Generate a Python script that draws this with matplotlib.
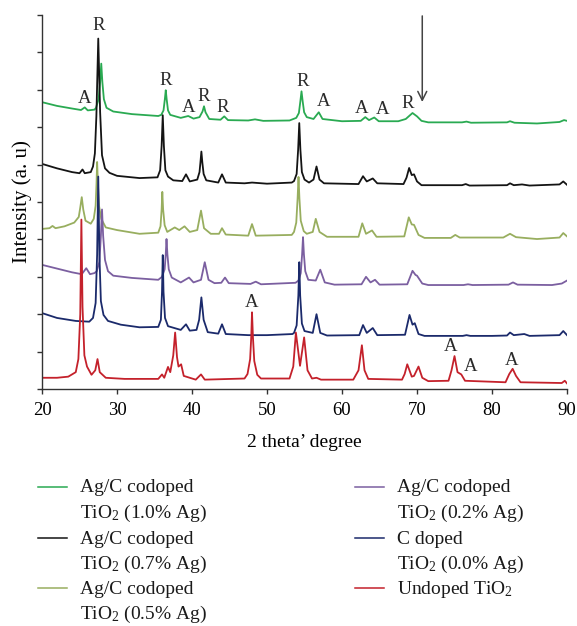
import matplotlib
matplotlib.use("Agg")
import matplotlib.pyplot as plt
from matplotlib.lines import Line2D

plt.rcParams["font.family"] = ["Liberation Serif", "DejaVu Serif"]
plt.rcParams["mathtext.fontset"] = "custom"
plt.rcParams["mathtext.rm"] = "Liberation Serif"
plt.rcParams["mathtext.it"] = "Liberation Serif:italic"

# XRD traces (2theta, stacked intensity in a.u.)
green_pts = [(20, 7.67), (22, 7.57), (24, 7.5), (25.2, 7.46), (25.7, 7.53), (26.1, 7.45), (27.0, 7.47),
             (27.2, 7.52), (27.55, 7.75), (27.75, 8.2), (27.9, 8.7), (28.05, 8.2), (28.25, 7.75), (28.6, 7.52),
             (29.5, 7.42), (32, 7.35), (35.5, 7.3), (35.9, 7.33), (36.2, 7.45), (36.38, 7.75), (36.5, 7.99),
             (36.62, 7.75), (36.8, 7.45), (37.1, 7.33), (38.5, 7.25), (39.5, 7.3), (40.2, 7.23), (41.0, 7.27),
             (41.4, 7.42), (41.6, 7.56), (41.8, 7.4), (42.3, 7.22), (43.8, 7.2), (44.3, 7.29), (44.8, 7.19),
             (47.5, 7.18), (48.4, 7.21), (49.5, 7.17), (53.0, 7.18), (53.9, 7.25), (54.25, 7.38), (54.45, 7.7),
             (54.6, 7.96), (54.75, 7.7), (54.95, 7.4), (55.3, 7.27), (56.2, 7.22), (56.9, 7.4), (57.4, 7.22),
             (60, 7.16), (62.5, 7.17), (63.1, 7.27), (63.6, 7.19), (64.3, 7.26), (64.9, 7.16), (67.5, 7.16),
             (68.5, 7.22), (69.4, 7.38), (70.0, 7.29), (70.6, 7.17), (71.5, 7.13), (76.0, 7.13), (76.6, 7.15),
             (77.2, 7.12), (82.0, 7.13), (82.4, 7.16), (83, 7.12), (86, 7.1), (89, 7.14), (89.6, 7.19), (90, 7.17)]
black_pts = [(20, 6.02), (22, 5.9), (24, 5.8), (25.0, 5.77), (25.4, 5.87), (25.7, 5.77), (26.5, 5.8),
             (26.8, 5.95), (27.05, 6.3), (27.25, 7.3), (27.5, 9.37), (27.75, 7.4), (28.0, 6.25), (28.4, 5.9),
             (29, 5.78), (30, 5.7), (33, 5.64), (35.4, 5.66), (35.75, 5.85), (35.95, 6.5), (36.1, 7.32),
             (36.25, 6.5), (36.45, 5.85), (36.8, 5.68), (37.5, 5.58), (38.7, 5.56), (39.2, 5.74), (39.7, 5.55),
             (40.7, 5.6), (41.0, 5.8), (41.12, 6.05), (41.25, 6.35), (41.38, 6.05), (41.55, 5.75), (41.9, 5.58),
             (43.5, 5.52), (44.0, 5.74), (44.5, 5.52), (47, 5.5), (48, 5.52), (50, 5.49), (53.3, 5.52),
             (53.6, 5.56), (53.95, 5.75), (54.15, 6.4), (54.3, 7.11), (54.45, 6.4), (54.65, 5.8), (55.0, 5.6),
             (55.6, 5.52), (56.2, 5.6), (56.6, 5.95), (57.0, 5.6), (57.6, 5.5), (62.2, 5.48), (62.8, 5.69),
             (63.3, 5.55), (64.1, 5.63), (64.7, 5.5), (68.2, 5.48), (68.6, 5.65), (68.95, 5.91), (69.3, 5.72),
             (69.6, 5.74), (70.0, 5.55), (70.6, 5.45), (76, 5.45), (76.5, 5.48), (77, 5.44), (82, 5.45),
             (82.4, 5.5), (82.9, 5.45), (84, 5.47), (85, 5.44), (89, 5.47), (89.5, 5.55), (90, 5.46)]
olive_pts = [(20, 4.28), (21.0, 4.3), (21.4, 4.36), (21.8, 4.3), (23, 4.35), (24.3, 4.45), (24.9, 4.6),
             (25.1, 4.85), (25.3, 5.13), (25.5, 4.8), (25.8, 4.5), (26.5, 4.42), (26.9, 4.55), (27.15, 4.9),
             (27.27, 5.5), (27.35, 6.07), (27.45, 5.5), (27.6, 4.9), (27.9, 4.55), (28.5, 4.32), (30, 4.25),
             (33, 4.15), (35.5, 4.18), (35.8, 4.35), (35.95, 4.8), (36.04, 5.27), (36.15, 4.8), (36.35, 4.38),
             (36.7, 4.2), (37.7, 4.32), (38.3, 4.25), (39.0, 4.35), (39.7, 4.2), (40.7, 4.25), (41.2, 4.77),
             (41.6, 4.3), (42.5, 4.15), (43.6, 4.15), (44.0, 4.3), (44.5, 4.13), (47.5, 4.1), (48.0, 4.41),
             (48.5, 4.1), (53.3, 4.12), (53.6, 4.2), (53.9, 4.45), (54.08, 5.1), (54.2, 5.67), (54.32, 5.1),
             (54.5, 4.5), (54.9, 4.22), (55.3, 4.15), (56.1, 4.2), (56.5, 4.55), (57.0, 4.2), (58, 4.07),
             (62.2, 4.07), (62.7, 4.43), (63.2, 4.15), (64.0, 4.24), (64.6, 4.07), (68.3, 4.08), (68.9, 4.59),
             (69.3, 4.4), (69.6, 4.39), (70.2, 4.12), (71, 4.04), (74.5, 4.04), (75.1, 4.12), (75.7, 4.05),
             (81.5, 4.05), (82.4, 4.15), (83.2, 4.06), (86, 4.01), (89, 4.05), (89.5, 4.17), (90, 4.08)]
purple_pts = [(20, 3.32), (22, 3.22), (24, 3.12), (25.3, 3.07), (25.9, 3.23), (26.4, 3.07), (27.0, 3.1),
              (27.3, 3.15), (27.65, 3.4), (27.85, 4.1), (28.0, 4.8), (28.15, 4.1), (28.4, 3.45), (28.8, 3.15),
              (29.5, 3.03), (32, 2.97), (35.5, 2.92), (36.0, 3.0), (36.35, 3.2), (36.5, 3.6), (36.6, 4.01),
              (36.72, 3.6), (36.9, 3.2), (37.3, 2.98), (38.5, 2.85), (39.6, 2.98), (40.2, 2.85), (41.2, 2.92),
              (41.7, 3.39), (42.2, 2.92), (43, 2.83), (43.9, 2.84), (44.4, 2.98), (44.9, 2.83), (47.8, 2.81),
              (48.5, 2.87), (49.2, 2.8), (53.8, 2.84), (54.2, 2.9), (54.5, 3.1), (54.68, 3.6), (54.8, 4.06),
              (54.92, 3.6), (55.1, 3.15), (55.5, 2.92), (56.5, 2.9), (57.1, 3.19), (57.7, 2.85), (59, 2.79),
              (62.6, 2.8), (63.2, 3.0), (63.8, 2.85), (64.4, 2.92), (65.0, 2.79), (68.7, 2.8), (69.4, 3.16),
              (69.8, 3.05), (70.0, 3.03), (70.7, 2.82), (71.5, 2.78), (76.2, 2.78), (76.8, 2.8), (77.4, 2.78),
              (82.2, 2.79), (82.8, 2.85), (83.4, 2.79), (88, 2.78), (89.3, 2.82), (90, 2.9)]
navy_pts = [(20, 2.03), (22, 1.9), (24.5, 1.82), (26.3, 1.8), (26.8, 1.9), (27.15, 2.3), (27.35, 3.6),
            (27.5, 5.68), (27.65, 3.6), (27.85, 2.35), (28.2, 1.98), (28.8, 1.82), (30.5, 1.72), (33, 1.65),
            (35.5, 1.66), (35.85, 1.85), (36.0, 2.6), (36.1, 3.58), (36.2, 2.6), (36.4, 1.9), (36.8, 1.68),
            (38.5, 1.58), (39.2, 1.73), (39.7, 1.56), (40.6, 1.58), (40.95, 1.85), (41.25, 2.45), (41.55, 1.85),
            (42.1, 1.52), (43.5, 1.48), (44.0, 1.73), (44.5, 1.47), (47.5, 1.44), (50, 1.44), (53.4, 1.47),
            (53.6, 1.5), (53.95, 1.7), (54.18, 2.5), (54.3, 3.39), (54.42, 2.5), (54.65, 1.75), (55.0, 1.55),
            (56.1, 1.5), (56.6, 2.0), (57.1, 1.5), (58, 1.43), (62.3, 1.44), (62.8, 1.71), (63.3, 1.5),
            (64.1, 1.63), (64.7, 1.44), (68.4, 1.45), (69.0, 1.98), (69.4, 1.72), (69.7, 1.76), (70.2, 1.47),
            (71, 1.42), (76.1, 1.42), (76.6, 1.44), (77.1, 1.42), (80, 1.42), (82.0, 1.43), (82.4, 1.51),
            (82.9, 1.44), (84.3, 1.47), (85, 1.42), (89, 1.44), (89.5, 1.55), (90, 1.44)]
red_pts = [(20, 0.3), (22, 0.3), (23.5, 0.33), (24.5, 0.45), (24.85, 0.8), (25.1, 2.0), (25.25, 4.53),
           (25.4, 2.2), (25.65, 0.9), (26.0, 0.6), (26.6, 0.38), (27.1, 0.5), (27.4, 0.8), (27.7, 0.45),
           (28.5, 0.3), (31, 0.27), (35.5, 0.27), (36.0, 0.39), (36.3, 0.3), (36.8, 0.59), (37.1, 0.45),
           (37.5, 0.9), (37.75, 1.51), (38.0, 0.85), (38.2, 0.6), (38.55, 0.66), (38.9, 0.35), (40.5, 0.25),
           (41.2, 0.39), (41.7, 0.25), (47.0, 0.28), (47.4, 0.4), (47.75, 0.8), (47.9, 1.4), (48.0, 2.05),
           (48.12, 1.4), (48.3, 0.75), (48.7, 0.38), (49.2, 0.28), (53.0, 0.28), (53.5, 0.6), (53.85, 1.51),
           (54.4, 0.62), (54.95, 1.38), (55.4, 0.5), (56.0, 0.28), (56.6, 0.3), (57.2, 0.25), (61.5, 0.25),
           (62.2, 0.5), (62.65, 1.17), (63.0, 0.5), (63.5, 0.27), (68.0, 0.25), (68.35, 0.4), (68.7, 0.66),
           (69.3, 0.33), (69.6, 0.35), (70.2, 0.6), (70.7, 0.3), (71.5, 0.21), (74.2, 0.22), (74.6, 0.5),
           (75.0, 0.88), (75.4, 0.45), (75.9, 0.39), (76.4, 0.22), (81.8, 0.18), (82.3, 0.4), (82.75, 0.54),
           (83.2, 0.35), (83.8, 0.18), (89.3, 0.16), (89.7, 0.22), (90, 0.15)]

series = [green_pts, black_pts, olive_pts, purple_pts, navy_pts, red_pts]
colors = ["#2aaa52", "#141414", "#98ae5f", "#7b5fa0", "#1b2a6b", "#c4212b"]
labels = ["Ag/C codoped\nTiO$_2$ (1.0% Ag)",
          "Ag/C codoped\nTiO$_2$ (0.7% Ag)",
          "Ag/C codoped\nTiO$_2$ (0.5% Ag)",
          "Ag/C codoped\nTiO$_2$ (0.2% Ag)",
          "C doped\nTiO$_2$ (0.0% Ag)",
          "Undoped TiO$_2$"]

# phase markers (A = anatase, R = rutile)
mark_text = ["A", "R", "R", "A", "R", "R", "R", "A", "A", "A", "R", "A", "A", "A", "A"]
mark_x = [25.7, 27.5, 36.5, 39.5, 41.6, 44.1, 54.8, 57.6, 62.6, 65.4, 68.7, 48.0, 74.5, 77.2, 82.6]
mark_y = [7.77, 9.73, 8.26, 7.54, 7.83, 7.54, 8.21, 7.68, 7.51, 7.47, 7.63, 2.31, 1.13, 0.59, 0.75]

fig = plt.figure(figsize=(5.77, 6.26), dpi=100)
ax = fig.add_axes([0.0728, 0.3786, 0.9099, 0.5974])

for pts, c in zip(series, colors):
    xs = [p[0] for p in pts]
    ys = [p[1] for p in pts]
    ax.plot(xs, ys, color=c, lw=1.3)

for t, x, y in zip(mark_text, mark_x, mark_y):
    ax.text(x, y, t, ha="center", va="center", fontsize=13.5, color="#2a2a2a")

ax.annotate("", xy=(70.7, 7.6), xytext=(70.7, 10.05), annotation_clip=False,
            arrowprops=dict(arrowstyle="->", color="#444444", lw=1.1, mutation_scale=16))

ax.set_xlim(20, 90)
ax.set_ylim(0, 10)
ax.set_xticks(range(20, 91, 10))
ax.set_yticks(range(0, 11))
ax.set_yticklabels([])
for s in ["top", "right"]:
    ax.spines[s].set_visible(False)
for s in ["left", "bottom"]:
    ax.spines[s].set_color("#333333")
    ax.spines[s].set_linewidth(1.0)
ax.tick_params(direction="out", length=3.5, width=1.0, color="#333333", labelsize=13.5, pad=6)
ax.set_xlabel("2 theta\u2019 degree", fontsize=14, labelpad=11)
ax.set_ylabel("Intensity (a. u)", fontsize=15, labelpad=-2.5)

# legend drawn by hand: the line sits next to the first line of each label
W, H = 577.0, 626.0
col_x = [38, 355]
row_y = [487, 538, 588]
for i, (lab, c) in enumerate(zip(labels, colors)):
    cx = col_x[i // 3]
    cy = row_y[i % 3]
    fig.add_artist(Line2D([cx / W, (cx + 29) / W], [1 - cy / H, 1 - cy / H], color=c, lw=1.1))
    for j, line in enumerate(lab.split("\n")):
        fig.text((cx + 42) / W, 1 - (cy + 5.5 + 25 * j) / H, line, fontsize=14,
                 ha="left", va="baseline", color="#1a1a1a")

fig.savefig("out.png", dpi=100)
plt.close(fig)
